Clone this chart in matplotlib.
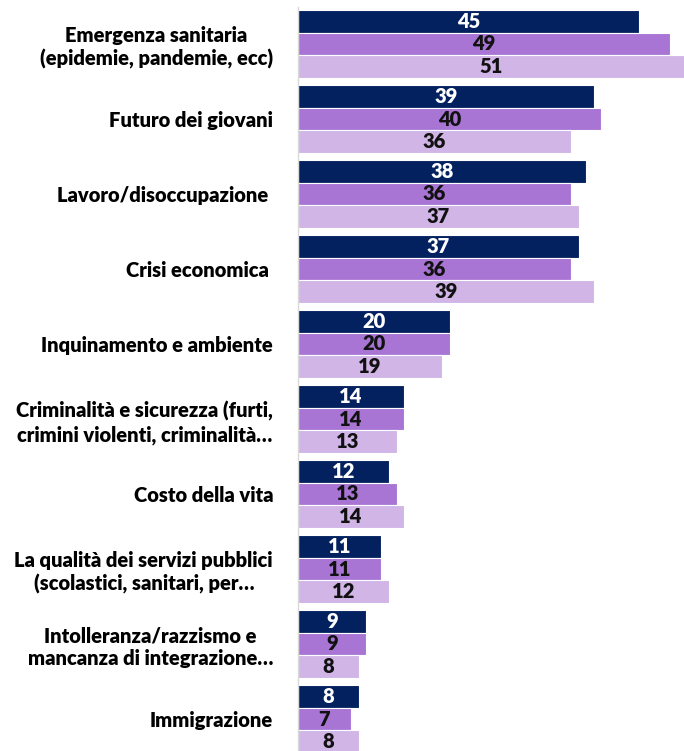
import matplotlib.pyplot as plt
import numpy as np

categories = [
    "Emergenza sanitaria\n(epidemie, pandemie, ecc)",
    "Futuro dei giovani",
    "Lavoro/disoccupazione ",
    "Crisi economica ",
    "Inquinamento e ambiente",
    "Criminalità e sicurezza (furti,\ncrimini violenti, criminalità…",
    "Costo della vita",
    "La qualità dei servizi pubblici\n(scolastici, sanitari, per…",
    "Intolleranza/razzismo e\nmancanza di integrazione…",
    "Immigrazione",
]
wave1 = [45, 39, 38, 37, 20, 14, 12, 11, 9, 8]
wave2 = [49, 40, 36, 36, 20, 14, 13, 11, 9, 7]
wave3 = [51, 36, 37, 39, 19, 13, 14, 12, 8, 8]

colors = ["#03215f", "#a975d4", "#d1b5e6"]
text_colors = ["white", "#111111", "#111111"]

plt.rcParams['font.family'] = ['Lato', 'DejaVu Sans']

fig = plt.figure(figsize=(6.84, 7.51), dpi=100)
ax = fig.add_axes([298 / 684, -5.5 / 751, 386 / 684, 750 / 751])

y = np.arange(len(categories))
h = 0.305
for i, vals in enumerate([wave1, wave2, wave3]):
    pos = y + (i - 1) * h
    bars = ax.barh(pos, vals, height=h, color=colors[i],
                   edgecolor="white", linewidth=0.8)
    for b, v in zip(bars, vals):
        ax.text(b.get_width() / 2, b.get_y() + b.get_height() / 2, str(v),
                ha="center", va="center", fontsize=14.5, fontweight="heavy",
                color=text_colors[i])

ax.set_xlim(0, 50.9)
ax.set_ylim(9.5, -0.5)
ax.set_yticks(y)
ax.set_yticklabels(categories, fontsize=14.5, fontweight="heavy",
                   multialignment="center", linespacing=1.25)
ax.tick_params(axis="y", length=0, pad=18)
ax.set_xticks([])
for s in ["top", "right", "bottom"]:
    ax.spines[s].set_visible(False)
ax.spines["left"].set_color("#d9d9d9")
ax.spines["left"].set_linewidth(1)

fig.savefig("out.png", dpi=100)
